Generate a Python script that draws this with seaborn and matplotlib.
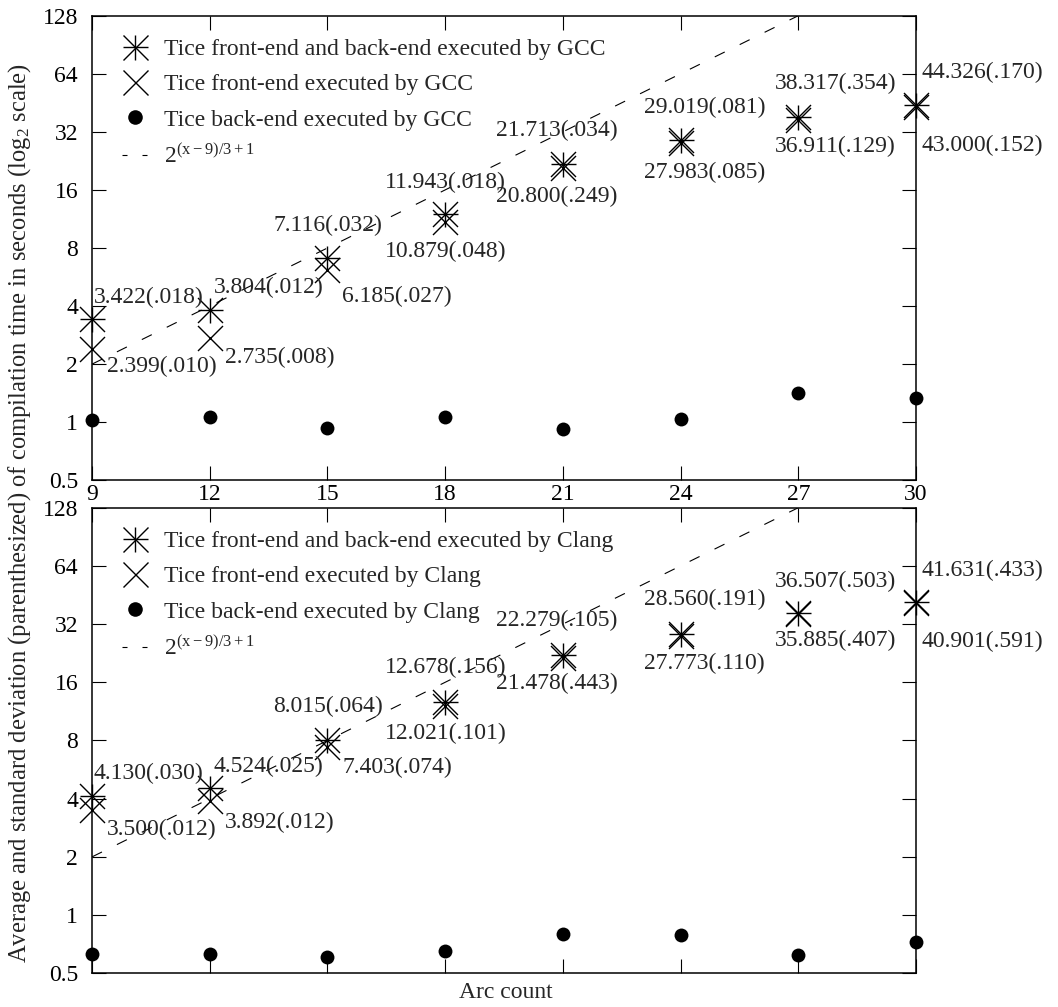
import numpy as np
import pandas as pd
import matplotlib
matplotlib.use("Agg")
import matplotlib.pyplot as plt
import seaborn as sns
from matplotlib.lines import Line2D
from matplotlib.legend_handler import HandlerTuple
from matplotlib.ticker import FixedLocator, FixedFormatter, NullLocator

# ---------------- data ----------------
arc_count = [9, 12, 15, 18, 21, 24, 27, 30]

gcc_both_mean = [3.422, 3.804, 7.116, 11.943, 21.713, 29.019, 38.317, 44.326]
gcc_both_sd = [".018", ".012", ".032", ".018", ".034", ".081", ".354", ".170"]
gcc_front_mean = [2.399, 2.735, 6.185, 10.879, 20.800, 27.983, 36.911, 43.000]
gcc_front_sd = [".010", ".008", ".027", ".048", ".249", ".085", ".129", ".152"]
gcc_back_mean = [1.03, 1.07, 0.935, 1.07, 0.92, 1.04, 1.41, 1.33]

clang_both_mean = [4.130, 4.524, 8.015, 12.678, 22.279, 28.560, 36.507, 41.631]
clang_both_sd = [".030", ".025", ".064", ".156", ".105", ".191", ".503", ".433"]
clang_front_mean = [3.500, 3.892, 7.403, 12.021, 21.478, 27.773, 35.885, 40.901]
clang_front_sd = [".012", ".012", ".074", ".101", ".443", ".110", ".407", ".591"]
clang_back_mean = [0.63, 0.63, 0.61, 0.65, 0.80, 0.79, 0.62, 0.73]

y_ticks = [0.5, 1, 2, 4, 8, 16, 32, 64, 128]
y_tick_labels = ["0.5", "1", "2", "4", "8", "16", "32", "64", "128"]
x_ticks = [9, 12, 15, 18, 21, 24, 27, 30]

# label placement (pixels relative to the marker)
DX_UP = [2, 4, -54, -60, -67, -37, -23, 6]
DX_DN = [15, 15, 15, -60, -67, -37, -23, 6]
DY_UP_GCC = [22, 23, 32, 32, 34, 33, 33, 32]
DY_DN_GCC = [18, 20, 27, 29, 29, 29, 27, 38]
DY_UP_CLANG = [23, 22, 34, 34, 34, 34, 32, 32]
DY_DN_CLANG = [20, 21, 20, 27, 26, 27, 26, 38]

# ---------------- style ----------------
sns.set_theme(style="ticks")
plt.rcParams["font.family"] = ["Liberation Serif", "DejaVu Serif"]
plt.rcParams["mathtext.fontset"] = "custom"
plt.rcParams["mathtext.rm"] = "Liberation Serif"
plt.rcParams["mathtext.it"] = "Liberation Serif"
plt.rcParams["lines.scale_dashes"] = False
FS = 17
PX = 0.72  # points per pixel at dpi 100

W, H = 1058, 1007
fig = plt.figure(figsize=(W / 100, H / 100), dpi=100)
ax_left, ax_right = 92, 916
ax1 = fig.add_axes([ax_left / W, 1 - 480.3 / H, (ax_right - ax_left) / W, (480.3 - 15.7) / H])
ax2 = fig.add_axes([ax_left / W, 1 - 973.3 / H, (ax_right - ax_left) / W, (973.3 - 507.7) / H])

MS_BIG = 18
MS_DOT = 10


def panel(ax, tool, both_m, both_sd, front_m, front_sd, back_m, dy_up, dy_dn, show_xlabels):
    df = pd.DataFrame({"x": arc_count, "both": both_m, "front": front_m, "back": back_m})
    # reference curve 2^((x-9)/3+1)
    xs = np.linspace(9, 27, 50)
    curve = pd.DataFrame({"x": xs, "y": 2 ** ((xs - 9) / 3 + 1)})
    sns.lineplot(data=curve, x="x", y="y", ax=ax, color="black", lw=0.8,
                 linestyle=(0, (8, 12)), estimator=None, legend=False)
    sns.scatterplot(data=df, x="x", y="both", ax=ax, marker="+", s=MS_BIG ** 2,
                    color="black", linewidth=1.0, clip_on=False, zorder=3, legend=False)
    sns.scatterplot(data=df, x="x", y="both", ax=ax, marker="x", s=MS_BIG ** 2,
                    color="black", linewidth=1.0, clip_on=False, zorder=3, legend=False)
    sns.scatterplot(data=df, x="x", y="front", ax=ax, marker="x", s=MS_BIG ** 2,
                    color="black", linewidth=1.0, clip_on=False, zorder=3, legend=False)
    sns.scatterplot(data=df, x="x", y="back", ax=ax, marker="o", s=MS_DOT ** 2,
                    color="black", edgecolor="black", linewidth=0, clip_on=False,
                    zorder=3, legend=False)

    for i, x in enumerate(arc_count):
        ax.annotate(f"{both_m[i]:.3f}({both_sd[i]})", (x, both_m[i]),
                    xytext=(DX_UP[i] * PX, dy_up[i] * PX), textcoords="offset points",
                    ha="left", va="center", fontsize=FS, annotation_clip=False)
        ax.annotate(f"{front_m[i]:.3f}({front_sd[i]})", (x, front_m[i]),
                    xytext=(DX_DN[i] * PX, -dy_dn[i] * PX), textcoords="offset points",
                    ha="left", va="center", fontsize=FS, annotation_clip=False)

    ax.set_yscale("log", base=2)
    ax.set_ylim(0.5, 128)
    ax.set_xlim(9, 30)
    ax.yaxis.set_major_locator(FixedLocator(y_ticks))
    ax.yaxis.set_major_formatter(FixedFormatter(y_tick_labels))
    ax.yaxis.set_minor_locator(NullLocator())
    ax.xaxis.set_major_locator(FixedLocator(x_ticks))
    ax.xaxis.set_minor_locator(NullLocator())
    ax.set_xlabel("")
    ax.set_ylabel("")
    for sp in ax.spines.values():
        sp.set_visible(True)
        sp.set_linewidth(1.1)
        sp.set_color("black")
    ax.tick_params(axis="both", which="major", direction="in", length=10, width=0.8,
                   color="black", top=True, right=True, labelsize=FS, labelcolor="black")
    ax.tick_params(axis="y", pad=10)
    ax.tick_params(axis="x", pad=3, labelbottom=show_xlabels)

    h_both = (Line2D([], [], ls="", marker="+", ms=MS_BIG, mew=1.0, color="black"),
              Line2D([], [], ls="", marker="x", ms=MS_BIG, mew=1.0, color="black"))
    h_front = Line2D([], [], ls="", marker="x", ms=MS_BIG, mew=1.0, color="black")
    h_back = Line2D([], [], ls="", marker="o", ms=MS_DOT * 1.05, mew=0, color="black")
    h_line = Line2D([], [], color="black", lw=0.8, linestyle=(0, (3.6, 10.8)))
    ax_h_px = 464.6
    ax.legend([h_both, h_front, h_back, h_line],
              [f"Tice front-end and back-end executed by {tool}",
               f"Tice front-end executed by {tool}",
               f"Tice back-end executed by {tool}",
               r"$\mathregular{2^{(x - 9)/3 + 1}}$"],
              handler_map={tuple: HandlerTuple(ndivide=1)},
              loc="upper left", bbox_to_anchor=(30 / 824, 1 - 23 / ax_h_px),
              frameon=False, borderpad=0, borderaxespad=0, handlelength=1.06,
              handletextpad=0.72, labelspacing=0.58, fontsize=FS, numpoints=1)


panel(ax1, "GCC", gcc_both_mean, gcc_both_sd, gcc_front_mean, gcc_front_sd, gcc_back_mean,
      DY_UP_GCC, DY_DN_GCC, True)
panel(ax2, "Clang", clang_both_mean, clang_both_sd, clang_front_mean, clang_front_sd,
      clang_back_mean, DY_UP_CLANG, DY_DN_CLANG, False)

fig.text(20 / W, 1 - 513 / H,
         r"Average and standard deviation (parenthesized) of compilation time in seconds (log$_\mathregular{2}$ scale)",
         rotation=90, ha="center", va="center", fontsize=17.7)
fig.text(506 / W, 1 - 993 / H, "Arc count", ha="center", va="center", fontsize=FS)

fig.savefig("out.png", dpi=100, facecolor="white")
